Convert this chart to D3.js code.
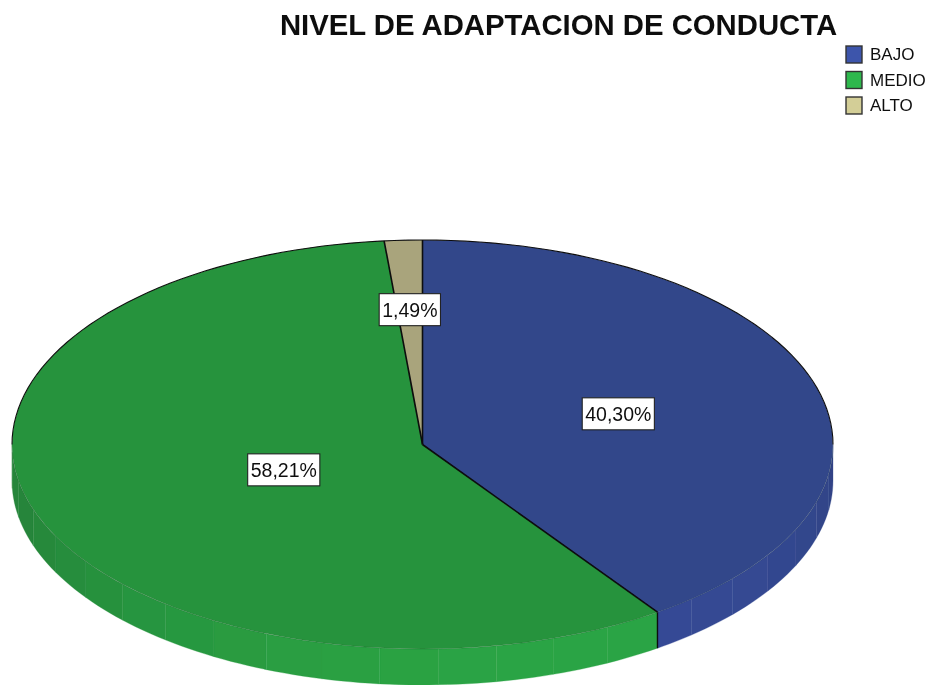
<!DOCTYPE html>
<html>
<head>
<meta charset="utf-8">
<script src="https://cdn.jsdelivr.net/npm/d3@7"></script>
<style>
  html, body { margin: 0; padding: 0; background: #fff; }
  text { font-family: "Liberation Sans", Arial, sans-serif; fill: #111; }
</style>
</head>
<body>
<div id="chart"></div>
<script>
var chartTitle = 'NIVEL DE ADAPTACION DE CONDUCTA';
var categories = ['BAJO', 'MEDIO', 'ALTO'];
var values = [40.30, 58.21, 1.49];
var valueLabels = ['40,30%', '58,21%', '1,49%'];

// face, wall dark end, wall light end, legend swatch
var faceColors = ['#32478a', '#27933c', '#a9a47c'];
var wallDark = ['#2b3d78', '#25853a'];
var wallLight = ['#354a96', '#2aa444'];
var legendColors = ['#3c55ab', '#2db84d', '#d3ce97'];
// how far out along the slice each label sits (fraction of radius)
var labelRadius = [0.5, 0.36, 0.66];

var width = 928, height = 685;
var depth = 36;

var svg = d3.select('#chart').append('svg')
    .attr('width', width)
    .attr('height', height)
    .style('display', 'block');

// soft look of the enlarged screenshot
svg.append('defs').append('filter')
    .attr('id', 'soft')
    .append('feGaussianBlur')
    .attr('stdDeviation', 0.6);

var root = svg.append('g').attr('filter', 'url(#soft)');

// Unit circle -> flattened ellipse on the page
var x = d3.scaleLinear().domain([-1, 1]).range([12, 833]);
var y = d3.scaleLinear().domain([-1, 1]).range([240, 649]);

var pie = d3.pie().sort(null).value(d => d);
var slices = pie(values);

var px = a => x(Math.sin(a));
var py = a => y(-Math.cos(a));

// Side wall, only the front half (90deg to 270deg clockwise from top) shows
var gWall = root.append('g').attr('class', 'wall');
var wallArea = d3.area()
    .x(px)
    .y0(py)
    .y1(a => py(a) + depth);
var bandStep = Math.PI / 22;
var lightAngle = Math.PI * 160 / 180;

slices.forEach((s, i) => {
  if (i > 1) return;
  var from = Math.max(s.startAngle, Math.PI / 2);
  var to = Math.min(s.endAngle, Math.PI * 1.5);
  var shade = d3.interpolateRgb(wallDark[i], wallLight[i]);
  for (var a = from; a < to; a += bandStep) {
    var end = Math.min(a + bandStep, to);
    var t = Math.max(0, Math.cos(((a + end) / 2 - lightAngle) * 0.95));
    var c = shade(t);
    gWall.append('path')
        .attr('d', wallArea(d3.range(0, 7).map(k => a + (end - a) * k / 6)))
        .attr('fill', c)
        .attr('stroke', c)
        .attr('stroke-width', 0.3);
  }
});

// Black line where the two visible walls meet
var seam = slices[0].endAngle;
root.append('line')
    .attr('x1', px(seam)).attr('x2', px(seam))
    .attr('y1', py(seam)).attr('y2', py(seam) + depth)
    .attr('stroke', '#111')
    .attr('stroke-width', 1.4);

// Top face: d3.arc on the unit circle, squashed by the two scales
var gFace = root.append('g')
    .attr('transform', 'translate(' + x(0) + ',' + y(0) + ') scale(' + (x(1) - x(0)) + ',' + (y(1) - y(0)) + ')');
var arc = d3.arc().innerRadius(0).outerRadius(1);

gFace.selectAll('path.slice')
    .data(slices)
    .enter()
    .append('path')
      .attr('class', 'slice')
      .attr('d', arc)
      .attr('fill', (d, i) => faceColors[i]);

// Slice borders
var gLines = root.append('g').attr('class', 'borders');
slices.forEach(s => {
  gLines.append('line')
      .attr('x1', x(0)).attr('y1', y(0))
      .attr('x2', px(s.startAngle)).attr('y2', py(s.startAngle))
      .attr('stroke', '#0c0c0c')
      .attr('stroke-width', 1.6);
});

// Rim: black along the back half, barely visible along the front
var rim = d3.line().x(px).y(py);
var back = d3.range(0, 91).map(k => Math.PI * 1.5 + Math.PI * k / 90);
var front = d3.range(0, 91).map(k => Math.PI / 2 + Math.PI * k / 90);
gLines.append('path')
    .attr('d', rim(back))
    .attr('fill', 'none')
    .attr('stroke', '#111')
    .attr('stroke-width', 1.1);
gLines.append('path')
    .attr('d', rim(front))
    .attr('fill', 'none')
    .attr('stroke', '#102a1a')
    .attr('stroke-opacity', 0.18)
    .attr('stroke-width', 1);

// Value labels
var gLabels = root.append('g').attr('class', 'labels');
slices.forEach((s, i) => {
  var mid = (s.startAngle + s.endAngle) / 2;
  var lx = x(Math.sin(mid) * labelRadius[i]);
  var ly = y(-Math.cos(mid) * labelRadius[i]);
  var g = gLabels.append('g').attr('transform', 'translate(' + lx + ',' + ly + ')');
  var t = g.append('text')
      .text(valueLabels[i])
      .attr('text-anchor', 'middle')
      .attr('dy', '0.36em')
      .style('font-size', '19.5px');
  var w = t.node().getComputedTextLength() + 6;
  g.insert('rect', 'text')
      .attr('x', -w / 2).attr('y', -16)
      .attr('width', w).attr('height', 32)
      .attr('fill', '#fff')
      .attr('stroke', '#222')
      .attr('stroke-width', 1.1);
});

// Title
root.append('text')
    .attr('class', 'chart-title')
    .attr('x', 558.5)
    .attr('y', 35)
    .attr('text-anchor', 'middle')
    .style('font-size', '29.3px')
    .style('font-weight', 'bold')
    .text(chartTitle);

// Legend
var legendY = d3.scalePoint().domain(categories).range([54, 105]);
var gLegend = root.append('g').attr('class', 'legend');
var entries = gLegend.selectAll('g')
    .data(categories)
    .enter()
    .append('g')
      .attr('transform', d => 'translate(846,' + legendY(d) + ')');
entries.append('rect')
    .attr('x', 0).attr('y', -8)
    .attr('width', 16).attr('height', 17)
    .attr('fill', (d, i) => legendColors[i])
    .attr('stroke', '#333')
    .attr('stroke-width', 1.4);
entries.append('text')
    .attr('x', 24)
    .attr('dy', '0.38em')
    .style('font-size', '17px')
    .text(d => d);
</script>
</body>
</html>
